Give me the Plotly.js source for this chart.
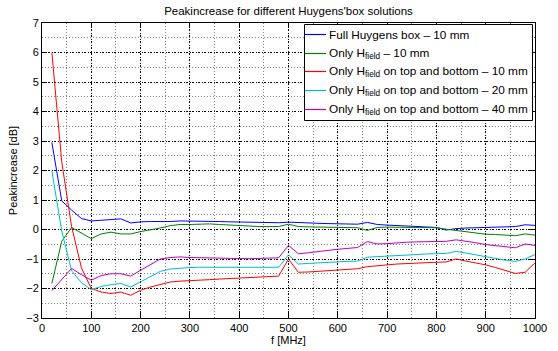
<!DOCTYPE html>
<html><head><meta charset="utf-8">
<script src="https://cdn.plot.ly/plotly-3.0.1.min.js"></script>
<style>html,body{margin:0;padding:0;background:#fff}#chart{width:558px;height:351px}</style>
</head><body><div id="chart"></div>
<script>
const freq = [20,40,60,80,100,120,140,160,180,200,220,240,260,280,300,320,340,360,380,400,420,440,460,480,500,520,540,560,580,600,620,640,660,680,700,720,740,760,780,800,820,840,860,880,900,920,940,960,980,1000];
const fullBox10 = [2.95,0.97,0.66,0.37,0.29,0.31,0.32,0.36,0.22,0.26,0.27,0.26,0.27,0.29,0.29,0.28,0.27,0.27,0.26,0.25,0.25,0.24,0.24,0.23,0.25,0.23,0.22,0.21,0.20,0.19,0.18,0.18,0.24,0.17,0.15,0.13,0.12,0.11,0.09,0.07,-0.02,0.03,0.05,0.06,0.07,0.09,0.10,0.10,0.16,0.14];
const hField10 = [-1.83,-0.40,0.07,-0.12,-0.31,-0.15,-0.09,-0.15,-0.15,-0.07,-0.02,0.05,0.13,0.17,0.17,0.18,0.19,0.17,0.15,0.12,0.11,0.10,0.10,0.10,0.18,0.10,0.09,0.08,0.08,0.07,0.07,0.06,-0.03,0.07,0.08,0.08,0.08,0.08,0.07,0.06,0.01,-0.03,-0.06,-0.10,-0.16,-0.17,-0.18,-0.21,-0.15,-0.19];
const topBottom10 = [6.0,2.3,0.1,-1.3,-2.0,-2.12,-2.17,-2.12,-2.23,-2.06,-1.95,-1.86,-1.78,-1.75,-1.74,-1.72,-1.70,-1.68,-1.66,-1.64,-1.62,-1.61,-1.60,-1.58,-1.0,-1.45,-1.44,-1.42,-1.40,-1.38,-1.36,-1.33,-1.26,-1.22,-1.20,-1.17,-1.15,-1.13,-1.12,-1.11,-1.10,-1.0,-1.07,-1.13,-1.20,-1.29,-1.39,-1.49,-1.45,-1.13];
const topBottom20 = [1.99,-0.05,-1.4,-1.8,-2.04,-1.93,-1.87,-1.83,-1.95,-1.77,-1.58,-1.42,-1.34,-1.31,-1.29,-1.28,-1.28,-1.29,-1.29,-1.30,-1.30,-1.29,-1.29,-1.28,-0.86,-1.17,-1.15,-1.13,-1.10,-1.09,-1.08,-1.07,-0.94,-0.92,-0.90,-0.87,-0.85,-0.84,-0.83,-0.82,-0.81,-0.74,-0.80,-0.88,-0.94,-1.00,-1.04,-1.08,-1.00,-0.85];
const topBottom40 = [-2.07,-1.68,-1.32,-1.53,-1.72,-1.56,-1.50,-1.50,-1.58,-1.38,-1.18,-1.00,-0.95,-0.93,-0.95,-0.96,-0.97,-0.98,-0.99,-1.00,-0.99,-0.98,-0.97,-0.96,-0.54,-0.82,-0.79,-0.76,-0.71,-0.67,-0.64,-0.61,-0.41,-0.49,-0.48,-0.45,-0.43,-0.42,-0.41,-0.40,-0.40,-0.35,-0.39,-0.45,-0.51,-0.54,-0.58,-0.62,-0.49,-0.54];
const seriesNames = ["Full Huygens box \u2013 10 mm","Only H<sub>field</sub> \u2013 10 mm","Only H<sub>field</sub> on top and bottom \u2013 10 mm","Only H<sub>field</sub> on top and bottom \u2013 20 mm","Only H<sub>field</sub> on top and bottom \u2013 40 mm"];
const seriesValues = [fullBox10,hField10,topBottom10,topBottom20,topBottom40];
const colors = ["#0000ff","#008000","#ff0000","#00bfbf","#bf00bf"];

const FONT = 'Liberation Sans, Arial, Helvetica, sans-serif';
const W = 558, H = 351;
const L = 42, R = 535, T = 23, B = 318;
const px2x = p => (p - L) / (R - L);
const py2y = p => (B - p) / (B - T);

const traces = seriesValues.map((v,i)=>({x:freq,y:v,type:'scatter',mode:'lines',name:seriesNames[i],line:{color:colors[i],width:1},showlegend:false}));

// custom legend box (MATLAB style)
const legBox = {l:304, r:532, t:24, b:120};
const rowY = [34.5, 53.5, 71.5, 90.5, 109.5];
const shapes = [{type:'rect', xref:'paper', yref:'paper', x0:px2x(legBox.l+0.5), x1:px2x(legBox.r+0.5), y0:py2y(legBox.b+0.5), y1:py2y(legBox.t+0.5),
  line:{color:'#000', width:1}, fillcolor:'#fff', layer:'above'}];
const annotations = [];
seriesNames.forEach((n,i)=>{
  shapes.push({type:'line', xref:'paper', yref:'paper', x0:px2x(305), x1:px2x(326), y0:py2y(rowY[i]), y1:py2y(rowY[i]), line:{color:colors[i], width:1.2}, layer:'above'});
  annotations.push({xref:'paper', yref:'paper', x:px2x(327.5), y:py2y(rowY[i] + (i===0?0.5:0)), xanchor:'left', yanchor:'middle', showarrow:false,
    text:n, font:{family:FONT, size:11.8, color:'#000'}, borderpad:0});
});

const axisCommon = {
  showline:true, mirror:'ticks', linecolor:'#000', linewidth:1,
  ticks:'inside', ticklen:5, tickcolor:'#000', zeroline:false,
  showgrid:true, gridcolor:'#000', griddash:'2px,1.5px,1px,1.5px', gridwidth:1,
  tickfont:{family:FONT, size:11, color:'#000'}
};
const layout = {
  width:W, height:H,
  margin:{l:L, r:W-R, t:T, b:H-B},
  paper_bgcolor:'#fff', plot_bgcolor:'#fff',
  font:{family:FONT, size:11, color:'#000'},
  title:{text:"Peakincrease for different Huygens'box solutions", font:{family:FONT, size:11.5}, x:0.5, xref:'paper', y:1, yref:'paper', yanchor:'bottom', pad:{b:8}},
  xaxis:Object.assign({}, axisCommon, {range:[0,1000], dtick:100, tick0:0,
    title:{text:'f [MHz]', standoff:2, font:{family:FONT, size:11}},
    minor:{dtick:50, showgrid:true, gridcolor:'#808080', griddash:'1px,2px', gridwidth:1, ticks:''}}),
  yaxis:Object.assign({}, axisCommon, {range:[-3,7], dtick:1, tick0:0,
    title:{text:'Peakincrease [dB]', standoff:6, font:{family:FONT, size:11}},
    minor:{dtick:0.5, showgrid:true, gridcolor:'#808080', griddash:'1px,2px', gridwidth:1, ticks:''}}),
  shapes:shapes,
  annotations:annotations,
  showlegend:false
};
Plotly.newPlot('chart', traces, layout, {displayModeBar:false, staticPlot:true});
</script></body></html>
